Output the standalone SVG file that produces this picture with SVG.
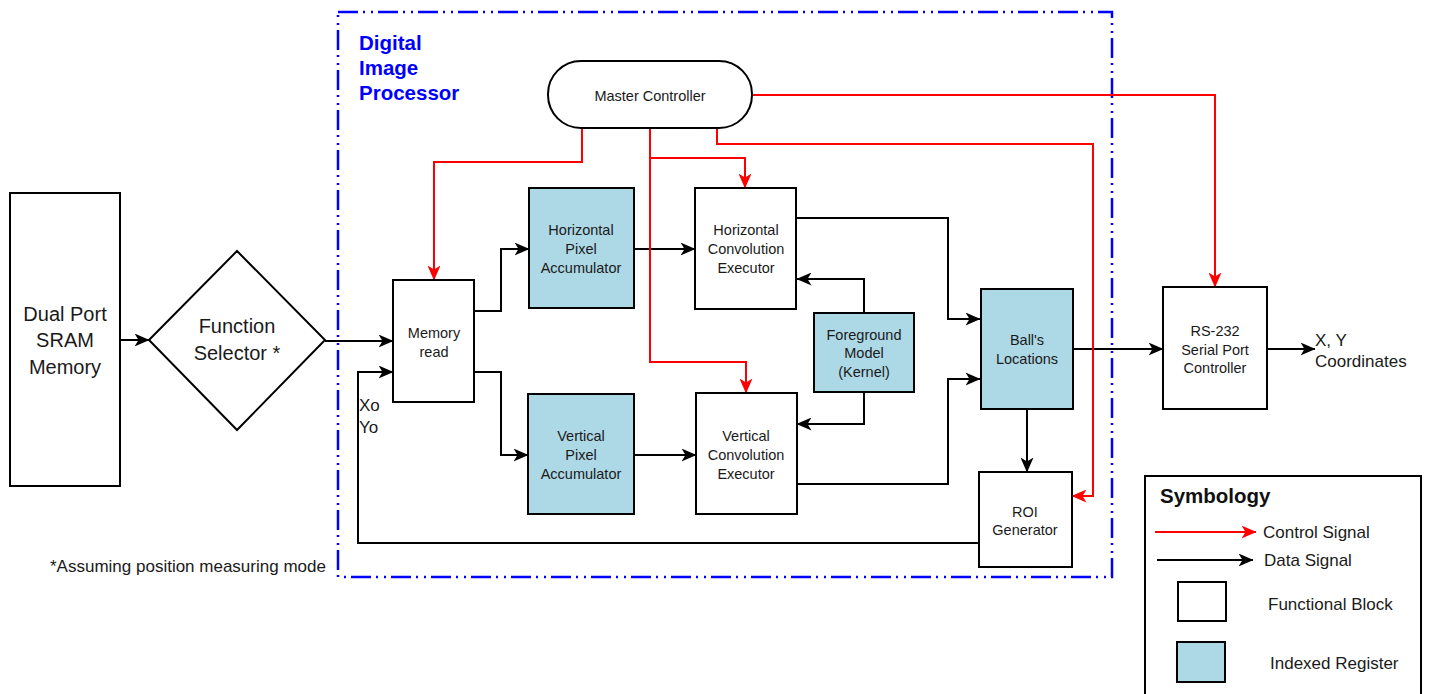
<svg xmlns="http://www.w3.org/2000/svg" width="1429" height="694" viewBox="0 0 1429 694">
  <defs>
    <marker id="arrowBlack" markerUnits="userSpaceOnUse" markerWidth="15" markerHeight="13" viewBox="0 0 15 13" refX="14.5" refY="6.5" orient="auto">
      <path d="M0,0 L15,6.5 L0,13 L4,6.5 z" fill="#000"/>
    </marker>
    <marker id="arrowRed" markerUnits="userSpaceOnUse" markerWidth="15" markerHeight="13" viewBox="0 0 15 13" refX="14.5" refY="6.5" orient="auto">
      <path d="M0,0 L15,6.5 L0,13 L4,6.5 z" fill="#ff0000"/>
    </marker>
  </defs>
  <style>
    .block { fill: #ffffff; stroke: #000; stroke-width: 2; }
    .reg { fill: #add8e6; stroke: #000; stroke-width: 2; }
    .lbl { font-family: "Liberation Sans", Arial, sans-serif; font-size: 14.5px; fill: #1a1a1a; text-anchor: middle; }
    .big { font-family: "Liberation Sans", Arial, sans-serif; font-size: 20px; fill: #1a1a1a; text-anchor: middle; }
    .note { font-family: "Liberation Sans", Arial, sans-serif; font-size: 17px; fill: #1a1a1a; }
    .data { fill: none; stroke: #000; stroke-width: 2; marker-end: url(#arrowBlack); }
    .ctrl { fill: none; stroke: #ff0000; stroke-width: 2; marker-end: url(#arrowRed); }
    .frame { fill: none; stroke: #0000ff; stroke-width: 2.5; stroke-dasharray: 20 5 2 6 2 5; }
  </style>

  <rect width="1429" height="694" fill="#ffffff"/>

  <!-- processor boundary -->
  <g id="processor-frame">
    <rect class="frame" x="338" y="12" width="774" height="565"/>
    <text x="359" y="50" font-family="'Liberation Sans', Arial, sans-serif" font-size="20.5px" font-weight="bold" fill="#0000ff">Digital</text>
    <text x="359" y="75" font-family="'Liberation Sans', Arial, sans-serif" font-size="20.5px" font-weight="bold" fill="#0000ff">Image</text>
    <text x="359" y="100" font-family="'Liberation Sans', Arial, sans-serif" font-size="20.5px" font-weight="bold" fill="#0000ff">Processor</text>
  </g>

  <!-- connectors -->
  <g id="connectors">
    <!-- data paths -->
    <path class="data" d="M120,340 H149"/>
    <path class="data" d="M325,341 H393"/>
    <path class="data" d="M979,543 H358 V372 H393"/>
    <path class="data" d="M474,311 H501 V249 H529"/>
    <path class="data" d="M474,372 H501 V455 H528"/>
    <path class="data" d="M634,249 H695"/>
    <path class="data" d="M634,455 H696"/>
    <path class="data" d="M864,313 V279 H797"/>
    <path class="data" d="M864,392 V424 H797"/>
    <path class="data" d="M796,218 H948 V319 H980"/>
    <path class="data" d="M797,484 H948 V379 H980"/>
    <path class="data" d="M1073,349 H1163"/>
    <path class="data" d="M1027,409 V472"/>
    <path class="data" d="M1267,349 H1315"/>
    <!-- control paths -->
    <path class="ctrl" d="M582,128 V162 H434 V280"/>
    <path class="ctrl" d="M650,128 V362 H746 V393"/>
    <path class="ctrl" d="M650,158 H745 V188"/>
    <path class="ctrl" d="M717,128 V144 H1093 V496 H1072"/>
    <path class="ctrl" d="M752,95 H1215 V287"/>
  </g>

  <g id="sram">
    <rect class="block" x="10" y="193" width="110" height="293"/>
    <text class="big" x="65" y="321">Dual Port</text>
    <text class="big" x="65" y="347">SRAM</text>
    <text class="big" x="65" y="374">Memory</text>
  </g>

  <g id="function-selector">
    <polygon class="block" points="149,340 237,251 325,340 237,430"/>
    <text class="big" x="237" y="333">Function</text>
    <text class="big" x="237" y="360">Selector *</text>
  </g>

  <g id="xo-yo">
    <text class="note" x="359" y="411" font-size="16px">Xo</text>
    <text class="note" x="359" y="433" font-size="16px">Yo</text>
  </g>

  <g id="master-controller">
    <rect class="block" x="548" y="61" width="204" height="67" rx="33" ry="33"/>
    <text class="lbl" x="650" y="101" font-size="13.5px">Master Controller</text>
  </g>

  <g id="memory-read">
    <rect class="block" x="393" y="280" width="81" height="122"/>
    <text class="lbl" x="434" y="338">Memory</text>
    <text class="lbl" x="434" y="357">read</text>
  </g>

  <g id="h-pixel-acc">
    <rect class="reg" x="529" y="188" width="105" height="120"/>
    <text class="lbl" x="581" y="235">Horizontal</text>
    <text class="lbl" x="581" y="254">Pixel</text>
    <text class="lbl" x="581" y="273">Accumulator</text>
  </g>

  <g id="v-pixel-acc">
    <rect class="reg" x="528" y="394" width="106" height="120"/>
    <text class="lbl" x="581" y="441">Vertical</text>
    <text class="lbl" x="581" y="460">Pixel</text>
    <text class="lbl" x="581" y="479">Accumulator</text>
  </g>

  <g id="h-conv">
    <rect class="block" x="695" y="188" width="101" height="121"/>
    <text class="lbl" x="746" y="235">Horizontal</text>
    <text class="lbl" x="746" y="254">Convolution</text>
    <text class="lbl" x="746" y="273">Executor</text>
  </g>

  <g id="v-conv">
    <rect class="block" x="696" y="393" width="101" height="121"/>
    <text class="lbl" x="746" y="441">Vertical</text>
    <text class="lbl" x="746" y="460">Convolution</text>
    <text class="lbl" x="746" y="479">Executor</text>
  </g>

  <g id="foreground-model">
    <rect class="reg" x="814" y="313" width="100" height="79"/>
    <text class="lbl" x="864" y="340">Foreground</text>
    <text class="lbl" x="864" y="358">Model</text>
    <text class="lbl" x="864" y="377">(Kernel)</text>
  </g>

  <g id="ball-locations">
    <rect class="reg" x="981" y="289" width="92" height="120"/>
    <text class="lbl" x="1027" y="345">Ball's</text>
    <text class="lbl" x="1027" y="364">Locations</text>
  </g>

  <g id="roi-generator">
    <rect class="block" x="979" y="472" width="93" height="95"/>
    <text class="lbl" x="1025" y="517">ROI</text>
    <text class="lbl" x="1025" y="535">Generator</text>
  </g>

  <g id="rs232">
    <rect class="block" x="1163" y="287" width="104" height="122"/>
    <text class="lbl" x="1215" y="336">RS-232</text>
    <text class="lbl" x="1215" y="355">Serial Port</text>
    <text class="lbl" x="1215" y="373">Controller</text>
  </g>

  <g id="output-label">
    <text class="note" x="1315" y="346">X, Y</text>
    <text class="note" x="1315" y="367">Coordinates</text>
  </g>

  <g id="footnote">
    <text class="note" x="50" y="572" font-size="16.1px">*Assuming position measuring mode</text>
  </g>

  <g id="legend">
    <rect class="block" x="1145" y="476" width="276" height="230"/>
    <text x="1160" y="503" font-family="'Liberation Sans', Arial, sans-serif" font-size="20.5px" font-weight="bold" fill="#111">Symbology</text>
    <path class="ctrl" d="M1155,532 H1256"/>
    <text class="note" x="1263" y="538">Control Signal</text>
    <path class="data" d="M1157,560 H1253"/>
    <text class="note" x="1264" y="566">Data Signal</text>
    <rect class="block" x="1178" y="582" width="48" height="39"/>
    <text class="note" x="1268" y="610">Functional Block</text>
    <rect class="reg" x="1177" y="642" width="48" height="40"/>
    <text class="note" x="1270" y="669">Indexed Register</text>
  </g>
</svg>
